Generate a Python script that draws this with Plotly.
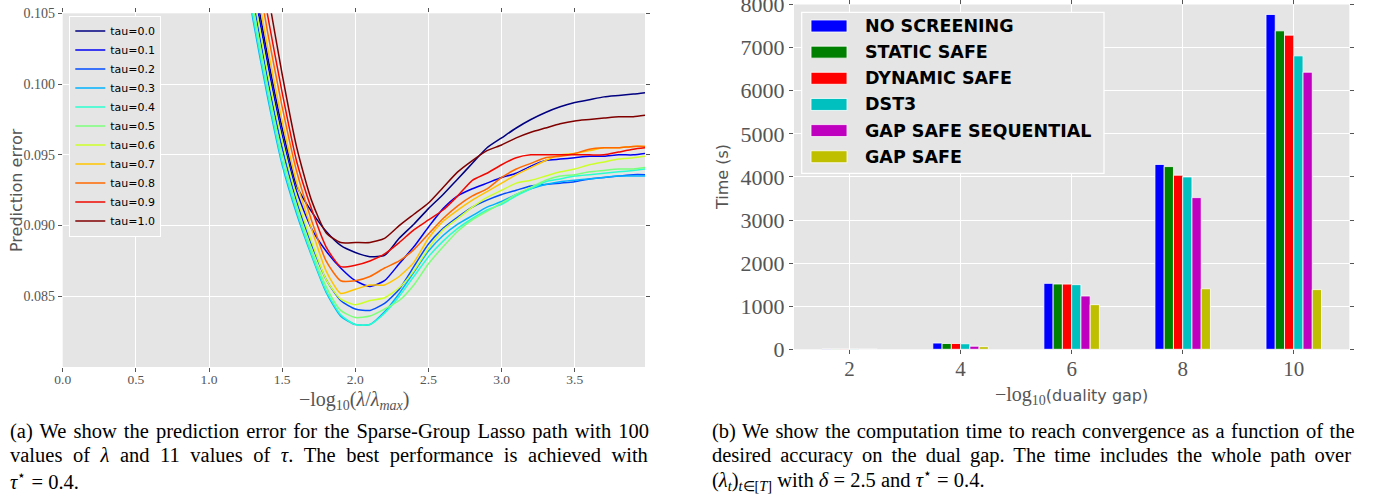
import plotly.graph_objects as go

# ---------------- data: left panel (prediction error along the path) ----------------
NEG_LOG_LAMBDA = [1.2, 1.3, 1.4, 1.5, 1.6, 1.7, 1.8, 1.9, 2.0, 2.1, 2.2, 2.3, 2.4, 2.5,
                  2.6, 2.7, 2.8, 2.9, 3.0, 3.1, 3.2, 3.3, 3.4, 3.5, 3.6, 3.7, 3.8, 3.9, 3.98]

ERR_TAU_00 = [0.1140, 0.1078, 0.1020, 0.0969, 0.0928, 0.0910, 0.0896, 0.0886, 0.0881, 0.0878,
              0.0879, 0.0891, 0.0901, 0.0912, 0.0922, 0.0933, 0.0944, 0.0955, 0.0962, 0.0969,
              0.0975, 0.0980, 0.0984, 0.0987, 0.0989, 0.0991, 0.0992, 0.0993, 0.0994]
ERR_TAU_01 = [0.1134, 0.1072, 0.1015, 0.0964, 0.0924, 0.0898, 0.0882, 0.0870, 0.0861, 0.0857,
              0.0861, 0.0873, 0.0885, 0.0899, 0.0912, 0.0921, 0.0926, 0.0930, 0.0934, 0.0937,
              0.0942, 0.0946, 0.0947, 0.0948, 0.0949, 0.0949, 0.0950, 0.0950, 0.0951]
ERR_TAU_02 = [0.1122, 0.1061, 0.1004, 0.0955, 0.0917, 0.0887, 0.0862, 0.0847, 0.0841, 0.0840,
              0.0845, 0.0855, 0.0871, 0.0887, 0.0898, 0.0906, 0.0913, 0.0918, 0.0922, 0.0925,
              0.0928, 0.0929, 0.0930, 0.0931, 0.0933, 0.0934, 0.0935, 0.0936, 0.0936]
ERR_TAU_03 = [0.1108, 0.1046, 0.0991, 0.0943, 0.0908, 0.0879, 0.0853, 0.0836, 0.0830, 0.0830,
              0.0839, 0.0852, 0.0867, 0.0882, 0.0893, 0.0901, 0.0907, 0.0913, 0.0917, 0.0922,
              0.0926, 0.0929, 0.0931, 0.0932, 0.0933, 0.0934, 0.0935, 0.0935, 0.0935]
ERR_TAU_04 = [0.1110, 0.1049, 0.0994, 0.0945, 0.0910, 0.0880, 0.0854, 0.0837, 0.0830, 0.0830,
              0.0838, 0.0850, 0.0864, 0.0878, 0.0889, 0.0898, 0.0905, 0.0911, 0.0915, 0.0921,
              0.0926, 0.0931, 0.0933, 0.0935, 0.0936, 0.0937, 0.0938, 0.0939, 0.0940]
ERR_TAU_05 = [0.1116, 0.1055, 0.0999, 0.0950, 0.0913, 0.0883, 0.0857, 0.0840, 0.0835, 0.0836,
              0.0841, 0.0847, 0.0858, 0.0873, 0.0885, 0.0896, 0.0904, 0.0910, 0.0916, 0.0922,
              0.0927, 0.0932, 0.0935, 0.0936, 0.0938, 0.0939, 0.0940, 0.0940, 0.0941]
ERR_TAU_06 = [0.1128, 0.1066, 0.1009, 0.0960, 0.0920, 0.0889, 0.0862, 0.0848, 0.0844, 0.0847,
              0.0849, 0.0856, 0.0868, 0.0884, 0.0897, 0.0905, 0.0913, 0.0920, 0.0925, 0.0930,
              0.0932, 0.0935, 0.0938, 0.0940, 0.0943, 0.0945, 0.0947, 0.0948, 0.0949]
ERR_TAU_07 = [0.1147, 0.1084, 0.1026, 0.0974, 0.0930, 0.0898, 0.0868, 0.0852, 0.0855, 0.0858,
              0.0858, 0.0864, 0.0874, 0.0891, 0.0903, 0.0911, 0.0918, 0.0924, 0.0930, 0.0936,
              0.0941, 0.0946, 0.0950, 0.0951, 0.0953, 0.0955, 0.0955, 0.0956, 0.0956]
ERR_TAU_08 = [0.1160, 0.1097, 0.1037, 0.0984, 0.0938, 0.0904, 0.0875, 0.0861, 0.0861, 0.0864,
              0.0870, 0.0875, 0.0883, 0.0894, 0.0905, 0.0914, 0.0921, 0.0926, 0.0934, 0.0940,
              0.0944, 0.0948, 0.0949, 0.0951, 0.0954, 0.0955, 0.0955, 0.0956, 0.0956]
ERR_TAU_09 = [0.1175, 0.1110, 0.1049, 0.0994, 0.0945, 0.0912, 0.0885, 0.0871, 0.0872, 0.0875,
              0.0880, 0.0888, 0.0897, 0.0904, 0.0911, 0.0921, 0.0932, 0.0937, 0.0943, 0.0948,
              0.0950, 0.0950, 0.0950, 0.0950, 0.0950, 0.0950, 0.0952, 0.0954, 0.0955]
ERR_TAU_10 = [0.1195, 0.1130, 0.1066, 0.1007, 0.0955, 0.0918, 0.0895, 0.0888, 0.0888, 0.0888,
              0.0891, 0.0900, 0.0908, 0.0916, 0.0927, 0.0938, 0.0946, 0.0953, 0.0957, 0.0962,
              0.0966, 0.0969, 0.0972, 0.0974, 0.0975, 0.0976, 0.0977, 0.0977, 0.0978]

TAU_LABELS = ["tau=0.0", "tau=0.1", "tau=0.2", "tau=0.3", "tau=0.4", "tau=0.5",
              "tau=0.6", "tau=0.7", "tau=0.8", "tau=0.9", "tau=1.0"]
JET_COLORS = ["#000080", "#0000f3", "#004cff", "#00b2ff", "#29ffce", "#7dff7a",
              "#cdff29", "#ffc400", "#ff6800", "#f10800", "#800000"]
LEFT_XTICKS = [0.0, 0.5, 1.0, 1.5, 2.0, 2.5, 3.0, 3.5]
LEFT_YTICKS = [0.085, 0.090, 0.095, 0.100, 0.105]

# ---------------- data: right panel (computation time) ----------------
GAP_LEVELS = [2, 4, 6, 8, 10]
NO_SCREENING = [6, 145, 1530, 4290, 7770]
STATIC_SAFE = [5, 135, 1515, 4240, 7390]
DYNAMIC_SAFE = [5, 135, 1513, 4040, 7290]
DST3 = [5, 128, 1500, 4000, 6810]
GAP_SAFE_SEQUENTIAL = [3, 72, 1237, 3520, 6430]
GAP_SAFE = [3, 60, 1036, 1405, 1385]
METHOD_NAMES = ["NO SCREENING", "STATIC SAFE", "DYNAMIC SAFE", "DST3",
                "GAP SAFE SEQUENTIAL", "GAP SAFE"]
METHOD_COLORS = ["#0000ff", "#008000", "#ff0000", "#00bfbf", "#bf00bf", "#bfbf00"]
RIGHT_YTICKS = [0, 1000, 2000, 3000, 4000, 5000, 6000, 7000, 8000]

CURVES = [ERR_TAU_00, ERR_TAU_01, ERR_TAU_02, ERR_TAU_03, ERR_TAU_04, ERR_TAU_05,
          ERR_TAU_06, ERR_TAU_07, ERR_TAU_08, ERR_TAU_09, ERR_TAU_10]
BAR_SERIES = [NO_SCREENING, STATIC_SAFE, DYNAMIC_SAFE, DST3, GAP_SAFE_SEQUENTIAL, GAP_SAFE]

W, H = 1383, 498
def px(x):
    return x / W
def py(y):
    return 1 - y / H

SERIF = "Liberation Serif"
SANS = "DejaVu Sans"
GREY = "#555555"
BG = "#e5e5e5"

fig = go.Figure()

for name, color, ys in zip(TAU_LABELS, JET_COLORS, CURVES):
    fig.add_trace(go.Scatter(
        x=NEG_LOG_LAMBDA, y=ys, name=name, mode="lines",
        line=dict(color=color, width=1.5, shape="spline", smoothing=0.6),
        xaxis="x", yaxis="y", legend="legend"))

for name, color, vals in zip(METHOD_NAMES, METHOD_COLORS, BAR_SERIES):
    fig.add_trace(go.Bar(
        x=GAP_LEVELS, y=vals, name=name,
        marker=dict(color=color, line=dict(color="white", width=0.8)),
        xaxis="x2", yaxis="y2", showlegend=False))

axis_common = dict(showgrid=True, gridcolor="white", gridwidth=1.2, zeroline=False,
                   ticks="outside", ticklen=4, tickwidth=1, tickcolor=GREY,
                   mirror="ticks", showline=False, automargin=False,
                   ticklabeloverflow="allow")

annotations = []
shapes = []

# axis titles
annotations.append(dict(
    text="−log<sub>10</sub>(<i>λ</i>/<i>λ</i><sub><i>max</i></sub>)",
    x=px(354), y=py(400), xref="paper", yref="paper", showarrow=False,
    xanchor="center", yanchor="middle", font=dict(family=SERIF, size=20, color=GREY)))
annotations.append(dict(
    text="Prediction error", textangle=-90,
    x=px(16), y=py(190), xref="paper", yref="paper", showarrow=False,
    xanchor="center", yanchor="middle", font=dict(family=SANS, size=16, color=GREY)))
annotations.append(dict(
    text="−log<sub>10</sub><span style=\"font-family:'DejaVu Sans';font-size:16px\">(duality gap)</span>",
    x=px(1071), y=py(395), xref="paper", yref="paper", showarrow=False,
    xanchor="center", yanchor="middle", font=dict(family=SERIF, size=20, color=GREY)))
annotations.append(dict(
    text="Time (s)", textangle=-90,
    x=px(722), y=py(177), xref="paper", yref="paper", showarrow=False,
    xanchor="center", yanchor="middle", font=dict(family=SANS, size=16, color=GREY)))

# right-panel legend (drawn as a framed box with patches)
shapes.append(dict(type="rect", xref="paper", yref="paper",
                   x0=px(801.7), x1=px(1104), y0=py(173.3), y1=py(12.3),
                   fillcolor=BG, line=dict(color="white", width=1.2), layer="above"))
for i, (name, color) in enumerate(zip(METHOD_NAMES, METHOD_COLORS)):
    yc = 26.0 + i * 26.15
    shapes.append(dict(type="rect", xref="paper", yref="paper",
                       x0=px(811), x1=px(847), y0=py(yc + 6), y1=py(yc - 6),
                       fillcolor=color, line=dict(color="white", width=0.8), layer="above"))
    annotations.append(dict(text=name, x=px(863), y=py(yc), xref="paper", yref="paper",
                            showarrow=False, xanchor="left", yanchor="middle",
                            font=dict(family=SANS, size=17.5, color="black", weight="bold")))

# captions (justified lines get extra word spacing)
CAP = dict(family=SERIF, size=20.5, color="black")
left_caption = [
    ("(a) We show the prediction error for the Sparse-Group Lasso path with 100", 2.0),
    ("values of <i>λ</i> and 11 values of <i>τ</i>. The best performance is achieved with", 5.4),
    ("<i>τ</i><sup>⋆</sup> = 0.4.", 0.0),
]
right_caption = [
    ("(b) We show the computation time to reach convergence as a function of the", 1.4),
    ("desired accuracy on the dual gap. The time includes the whole path over", 3.9),
    ("(<i>λ<sub>t</sub></i>)<sub><i>t</i>∈[<i>T</i>]</sub> with <i>δ</i> = 2.5 and <i>τ</i><sup>⋆</sup> = 0.4.", 0.0),
]
def caption_text(line, ws):
    if ws > 0:
        return f'<span style="word-spacing:{ws}px">{line}</span>'
    return line
for i, (line, ws) in enumerate(left_caption):
    annotations.append(dict(text=caption_text(line, ws), x=px(8), y=py(431 + 24.3 * i),
                            xref="paper", yref="paper", showarrow=False,
                            xanchor="left", yanchor="middle", font=CAP))
for i, (line, ws) in enumerate(right_caption):
    annotations.append(dict(text=caption_text(line, ws), x=px(710), y=py(431 + 24.3 * i),
                            xref="paper", yref="paper", showarrow=False,
                            xanchor="left", yanchor="middle", font=CAP))

fig.update_layout(
    width=W, height=H, margin=dict(l=0, r=0, t=0, b=0, autoexpand=False),
    paper_bgcolor="white", plot_bgcolor=BG,
    showlegend=True,
    barmode="group", bargap=0.5, bargroupgap=0.0,
    xaxis=dict(domain=[px(62.7), px(645)], range=[0, 3.98], anchor="y",
               tickvals=LEFT_XTICKS, ticktext=[f"{v:.1f}" for v in LEFT_XTICKS],
               tickfont=dict(family=SERIF, size=13.5, color=GREY),
               ticklabelstandoff=-4, **axis_common),
    yaxis=dict(domain=[py(367), py(13.3)], range=[0.080, 0.10501], anchor="x",
               tickvals=LEFT_YTICKS, ticktext=[f"{v:.3f}" for v in LEFT_YTICKS],
               tickfont=dict(family=SERIF, size=14, color=GREY), **axis_common),
    xaxis2=dict(domain=[px(794), px(1349.3)], range=[1, 11], anchor="y2",
                tickvals=GAP_LEVELS, ticktext=[str(v) for v in GAP_LEVELS],
                tickfont=dict(family=SERIF, size=21, color=GREY),
                ticklabelstandoff=-4, **axis_common),
    yaxis2=dict(domain=[py(349.3), py(4.5)], range=[0, 8001], anchor="x2",
                tickvals=RIGHT_YTICKS, ticktext=[str(v) for v in RIGHT_YTICKS],
                tickfont=dict(family=SERIF, size=22, color=GREY), **axis_common),
    legend=dict(x=px(69.3), y=py(15.5), xanchor="left", yanchor="top",
                bgcolor=BG, bordercolor="white", borderwidth=1,
                font=dict(family=SANS, size=11, color="black"),
                itemwidth=30, tracegroupgap=0),
    annotations=annotations, shapes=shapes,
)

fig.write_html("out.html", config={"displayModeBar": False},
               post_script="document.body.style.margin='0';")
